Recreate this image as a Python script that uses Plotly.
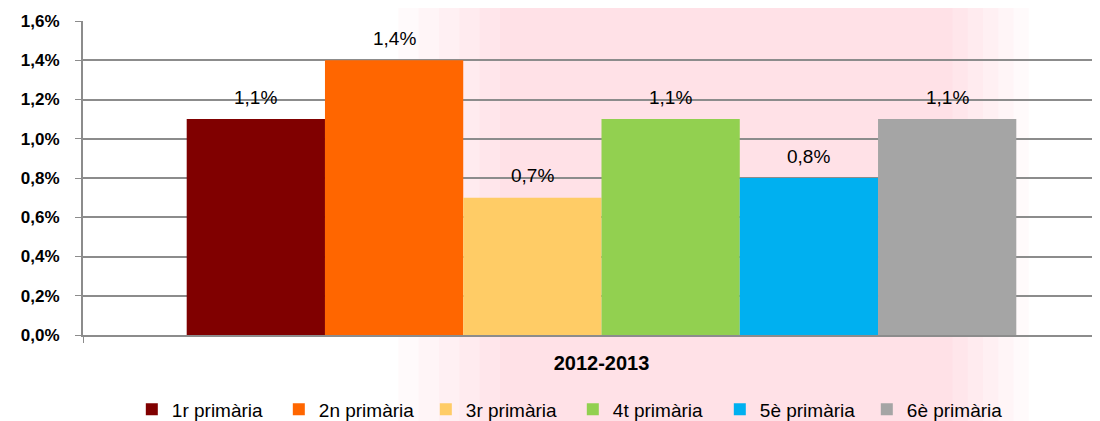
import plotly.graph_objects as go

categories = ["2012-2013"]
series_names = ["1r primària", "2n primària", "3r primària", "4t primària", "5è primària", "6è primària"]
series_values = [1.1, 1.4, 0.7, 1.1, 0.8, 1.1]
series_colors = ["#800000", "#FF6600", "#FFCC66", "#92D050", "#00B0F0", "#A5A5A5"]
y_ticks = [0.0, 0.2, 0.4, 0.6, 0.8, 1.0, 1.2, 1.4, 1.6]
y_tick_labels = [f"{v:.1f}".replace(".", ",") + "%" for v in y_ticks]

FONT = "Liberation Sans, Arial, sans-serif"

fig = go.Figure()
n = len(series_names)
bargap = 0.2
group_w = 1 - bargap
annotations = []
for i, (name, val, col) in enumerate(zip(series_names, series_values, series_colors)):
    fig.add_trace(go.Bar(
        x=categories, y=[val], name=name, marker=dict(color=col, line=dict(width=0)),
        hoverinfo="skip",
    ))
    xc = -group_w / 2 + (i + 0.5) * group_w / n
    annotations.append(dict(
        x=xc, y=val, xref="x", yref="y", text=f"{val:.1f}".replace(".", ",") + "%",
        showarrow=False, yanchor="middle", yshift=22,
        font=dict(family=FONT, size=19, color="#000000"),
    ))

# page has an 8px body margin: figure is sized/offset to fill the window
plot_left, plot_right = 75, 1092
full_cat_px = 2 * (593.5 - plot_left)
x_max = -0.5 + (plot_right - plot_left) / full_cat_px

# faint pink watermark in the background (soft edges via nested translucent rects)
shapes = []
for x0, x1 in [(0.31, 0.93), (0.33, 0.915), (0.35, 0.90), (0.37, 0.885), (0.39, 0.87), (0.41, 0.855)]:
    shapes.append(dict(
        type="rect", xref="paper", yref="paper", x0=x0, x1=x1, y0=-0.3, y1=1.1,
        fillcolor="rgba(240,100,115,0.03)", line=dict(width=0), layer="below",
    ))

fig.update_layout(
    width=1092, height=413,
    margin=dict(l=75, r=0, t=13, b=86, autoexpand=False),
    paper_bgcolor="white", plot_bgcolor="rgba(0,0,0,0)",
    barmode="group", bargap=bargap, bargroupgap=0,
    separators=",.",
    annotations=annotations,
    shapes=shapes,
    showlegend=True,
    legend=dict(
        orientation="h", x=0.048, xanchor="left", y=-0.237, yanchor="middle",
        font=dict(family=FONT, size=19, color="#000000"),
        entrywidth=102, entrywidthmode="pixels",
        bgcolor="rgba(0,0,0,0)", traceorder="normal",
    ),
    xaxis=dict(
        type="category", range=[-0.5, x_max], automargin=False,
        showline=True, linecolor="#8C8C8C", linewidth=2,
        ticks="outside", ticklen=6, tickcolor="#8C8C8C", tickson="boundaries",
        tickfont=dict(family=FONT, size=20, color="#000000", weight="bold"),
        ticklabelstandoff=9,
        showgrid=False, zeroline=False,
    ),
    yaxis=dict(
        range=[0, 1.6], tickvals=y_ticks, ticktext=y_tick_labels, automargin=False,
        showline=True, linecolor="#8C8C8C", linewidth=2,
        ticks="outside", ticklen=6, tickcolor="#8C8C8C",
        showgrid=True, gridcolor="#8C8C8C", gridwidth=2,
        tickfont=dict(family=FONT, size=17, color="#000000", weight="bold"),
        ticklabelstandoff=12,
        zeroline=False,
    ),
)

fig.write_html("out.html")
